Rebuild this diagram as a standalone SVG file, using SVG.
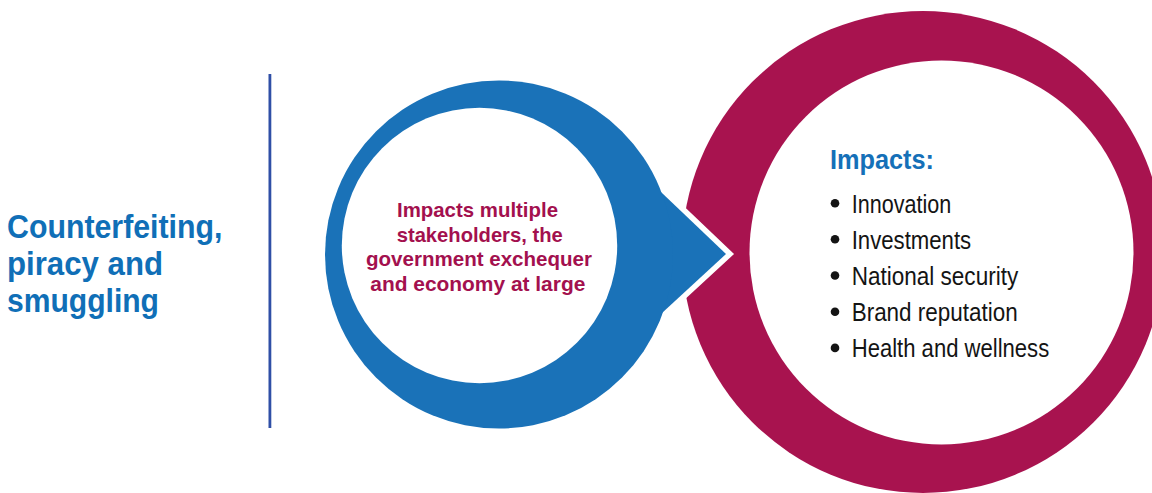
<svg xmlns="http://www.w3.org/2000/svg" width="1152" height="493" viewBox="0 0 1152 493">
  <defs>
    <style>
      .title { font-family: "Liberation Sans", Arial, sans-serif; font-weight: bold; font-size: 34px; fill: #106fb7; }
      .mid { font-family: "Liberation Sans", Arial, sans-serif; font-weight: bold; font-size: 20.5px; fill: #a3104e; text-anchor: middle; }
      .head { font-family: "Liberation Sans", Arial, sans-serif; font-weight: bold; font-size: 27px; fill: #1570b8; }
      .item { font-family: "Liberation Sans", Arial, sans-serif; font-size: 25px; fill: #141414; }
      .bullet { fill: #141414; }
      .blue { fill: #1a72b8; }
      .magenta { fill: #a8134f; }
      .hole { fill: #ffffff; }
    </style>
  </defs>
  <rect width="1152" height="493" fill="#ffffff"/>

  <g id="title">
    <text class="title" x="7" y="237.5" textLength="215.5" lengthAdjust="spacingAndGlyphs">Counterfeiting,</text>
    <text class="title" x="7" y="274.5" textLength="156" lengthAdjust="spacingAndGlyphs">piracy and</text>
    <text class="title" x="7" y="311.5" textLength="152" lengthAdjust="spacingAndGlyphs">smuggling</text>
  </g>

  <g id="divider">
    <rect x="268.5" y="74" width="2.8" height="354" fill="#2f4fa6"/>
  </g>

  <g id="impacts-node">
    <circle class="magenta" cx="923" cy="252" r="241"/>
    <circle class="hole" cx="941.5" cy="252.5" r="192"/>
    <text class="head" x="830" y="169.3" textLength="104" lengthAdjust="spacingAndGlyphs">Impacts:</text>
    <circle class="bullet" cx="835" cy="203.3" r="4.3"/>
    <text class="item" x="851.7" y="212.6" textLength="99.5" lengthAdjust="spacingAndGlyphs">Innovation</text>
    <circle class="bullet" cx="835" cy="239.3" r="4.3"/>
    <text class="item" x="851.7" y="248.7" textLength="119.5" lengthAdjust="spacingAndGlyphs">Investments</text>
    <circle class="bullet" cx="835" cy="275.5" r="4.3"/>
    <text class="item" x="851.7" y="284.9" textLength="166.5" lengthAdjust="spacingAndGlyphs">National security</text>
    <circle class="bullet" cx="835" cy="311.7" r="4.3"/>
    <text class="item" x="851.7" y="321.1" textLength="166" lengthAdjust="spacingAndGlyphs">Brand reputation</text>
    <circle class="bullet" cx="835" cy="347.9" r="4.3"/>
    <text class="item" x="851.7" y="357.3" textLength="197.5" lengthAdjust="spacingAndGlyphs">Health and wellness</text>
  </g>

  <g id="connectors">
    <polygon points="630,162.6 726,254 630,342.4" fill="#ffffff" stroke="#ffffff" stroke-width="11" stroke-linejoin="miter" stroke-miterlimit="10"/>
    <polygon class="blue" points="630,162.6 726,254 630,342.4"/>
  </g>

  <g id="stakeholders-node">
    <circle class="blue" cx="499" cy="254.5" r="174"/>
    <circle class="hole" cx="479.5" cy="245.5" r="137.7"/>
    <text class="mid" x="477.5" y="216.7" textLength="161" lengthAdjust="spacingAndGlyphs">Impacts multiple</text>
    <text class="mid" x="479.7" y="241.7" textLength="166" lengthAdjust="spacingAndGlyphs">stakeholders, the</text>
    <text class="mid" x="479" y="266.4" textLength="226" lengthAdjust="spacingAndGlyphs">government exchequer</text>
    <text class="mid" x="477.8" y="291.3" textLength="215" lengthAdjust="spacingAndGlyphs">and economy at large</text>
  </g>
</svg>
